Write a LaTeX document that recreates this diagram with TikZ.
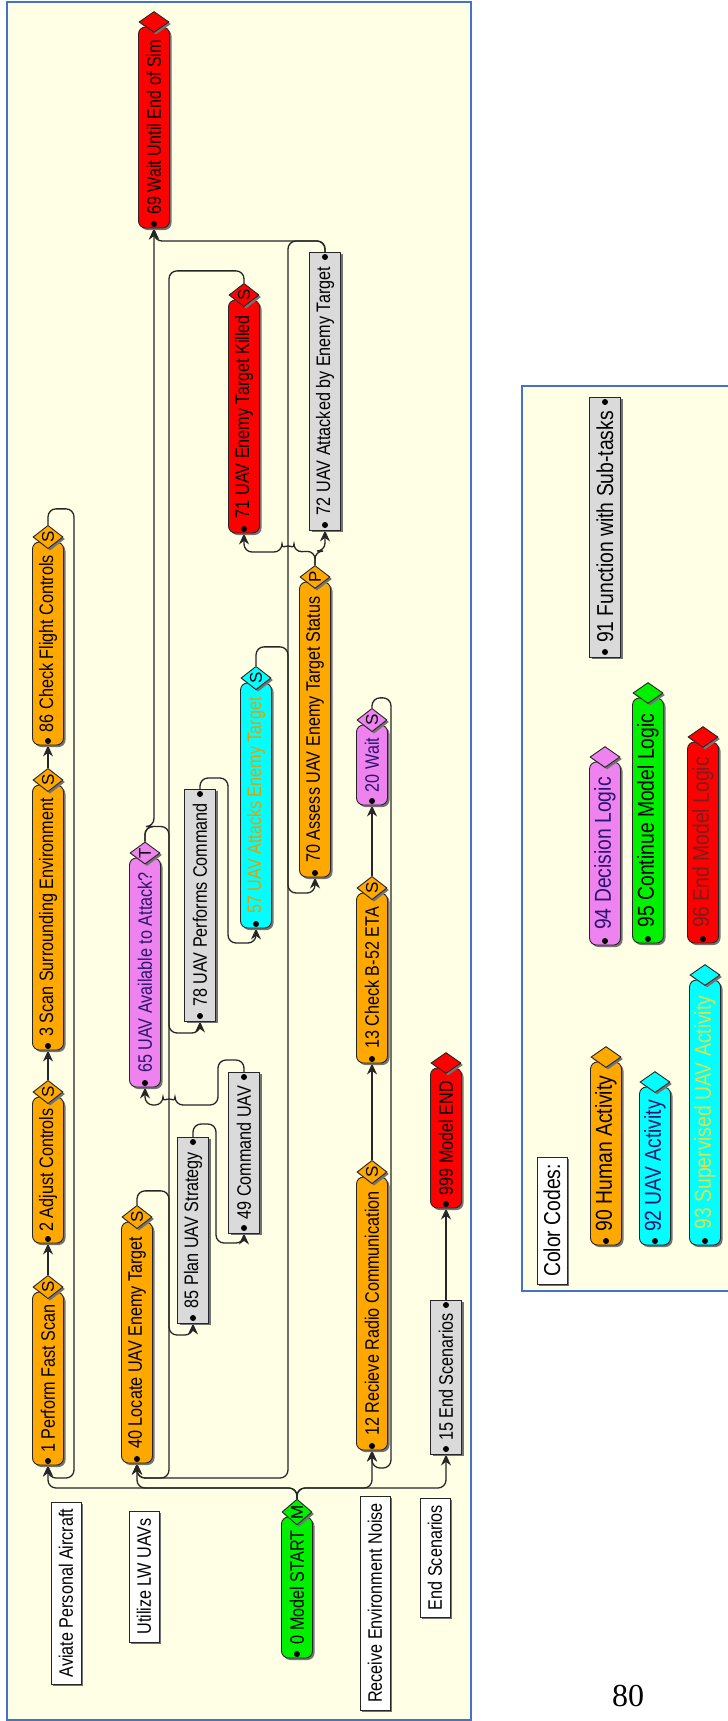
\documentclass[tikz,border=0pt]{standalone}
\usepackage{fontspec}
\setmainfont{Liberation Sans}
\newfontfamily\pagefont{Liberation Serif}
\usetikzlibrary{arrows.meta,shapes.geometric,shadows}

\definecolor{paper}{RGB}{255,255,230}
\definecolor{frameblue}{RGB}{68,114,196}
\definecolor{human}{RGB}{255,168,0}
\definecolor{uav}{RGB}{0,255,255}
\definecolor{decide}{RGB}{238,130,238}
\definecolor{goon}{RGB}{0,240,0}
\definecolor{stopred}{RGB}{255,0,0}
\definecolor{func}{RGB}{218,218,218}
\definecolor{navy}{RGB}{40,20,110}
\definecolor{gold}{RGB}{225,160,0}
\definecolor{pale}{RGB}{225,225,70}
\definecolor{maroon}{RGB}{120,30,30}

\pgfdeclarelayer{back}
\pgfdeclarelayer{wires}
\pgfsetlayers{back,wires,main}

% condensed, upright-reading-upwards text
\newcommand{\boxfont}{\fontsize{19.5}{21}\selectfont}
\newcommand{\condense}{0.83}
\newcommand{\vtext}[1]{\rotatebox{90}{\scalebox{\condense}[1]{#1}}}

\tikzset{
  boxshadow/.style={drop shadow={shadow xshift=2pt,shadow yshift=-2pt,fill=black!55,opacity=1}},
  taskbox/.style={draw=black!85, line width=0.9pt, rounded corners=7pt, minimum width=31pt,
                  inner sep=0pt, boxshadow, font=\boxfont},
  diam/.style={diamond, draw=black!85, line width=0.9pt, minimum width=30pt, minimum height=21pt,
               inner sep=0pt, boxshadow, font=\fontsize{17}{17}\selectfont},
  funcbox/.style={draw=black!85, fill=func, line width=0.9pt, minimum width=31pt,
                  inner sep=0pt, boxshadow, font=\boxfont},
  labelbox/.style={draw=black!85, fill=white, line width=0.9pt, minimum width=30pt,
                   inner sep=0pt, boxshadow, font=\boxfont},
  indot/.style={circle, fill=black, inner sep=0pt, minimum size=6pt},
  conn/.style={draw=black!85, line width=1.3pt, rounded corners=8pt},
  arr/.style={conn, -{Stealth[length=11pt,width=10pt]}},
}

% task: name, x, top, bottom, fill, letter, text colour, text
\newcommand{\mktask}[8]{%
  \node[taskbox, fill=#5, text=#7, minimum height={(#4-(#3))*1pt}] (#1) at (#2,{(#3+#4)/2}) {\vtext{#8}};
  \node[diam, fill=#5] (#1d) at (#2,{#3-5}) {\rotatebox{90}{#6}};
  \node[indot] (#1i) at (#2,{#4-4}) {};
}
% function with sub-tasks: name, x, top, bottom, text
\newcommand{\mkfunc}[5]{%
  \node[funcbox, minimum height={(#4-(#3))*1pt}] (#1) at (#2,{(#3+#4)/2}) {\vtext{#5}};
  \node[indot] (#1o) at (#2,{#3+5}) {};
  \node[indot] (#1i) at (#2,{#4-5}) {};
}
% plain label: name, x, top, bottom, text
\newcommand{\mklabel}[5]{%
  \node[labelbox, minimum height={(#4-(#3))*1pt}] (#1) at (#2,{(#3+#4)/2}) {\vtext{#5}};
}

\begin{document}
\begin{tikzpicture}[x=1pt,y=-1pt]
\useasboundingbox (0,0) rectangle (728,1721);

\begin{pgfonlayer}{back}
  \fill[white] (0,0) rectangle (728,1721);
  \fill[paper] (7,2) rectangle (471,1720);
  \draw[frameblue, line width=1.5pt] (7,2) rectangle (471,1720);
  \fill[paper] (522,386) rectangle (728,1291);
  \draw[frameblue, line width=1.5pt] (728,386) -- (522,386) -- (522,1291) -- (728,1291);
\end{pgfonlayer}

% ---------- row labels ----------
\mklabel{lab1}{66}{1502}{1684}{Aviate Personal Aircraft}
\mklabel{lab2}{144}{1511}{1642}{Utilize LW UAVs}
\mklabel{lab3}{375}{1496}{1710}{Receive Environment Noise}
\mklabel{lab4}{435}{1498}{1617}{End Scenarios}

% ---------- start ----------
\mktask{t0}{297}{1517}{1658}{goon}{M}{black}{0 Model START}

% ---------- aviate ----------
\mktask{t1}{48}{1292}{1465}{human}{S}{black}{1 Perform Fast Scan}
\mktask{t2}{48}{1097}{1243}{human}{S}{black}{2 Adjust Controls}
\mktask{t3}{48}{785}{1050}{human}{S}{black}{3 Scan Surrounding Environment}
\mktask{t86}{48}{542}{745}{human}{S}{black}{86 Check Flight Controls}

% ---------- UAV use ----------
\mktask{t40}{137}{1222}{1463}{human}{S}{black}{40 Locate UAV Enemy Target}
\mkfunc{f85}{193}{1137}{1323}{85 Plan UAV Strategy}
\mkfunc{f49}{244}{1072}{1233}{49 Command UAV}
\mktask{t65}{145}{858}{1087}{decide}{T}{navy}{65 UAV Available to Attack?}
\mkfunc{f78}{200}{789}{1021}{78 UAV Performs Command}
\mktask{t57}{256}{683}{928}{uav}{S}{gold}{57 UAV Attacks Enemy Target}
\mktask{t70}{315}{582}{877}{human}{P}{black}{70 Assess UAV Enemy Target Status}
\mktask{t71}{244}{300}{533}{stopred}{S}{black}{71 UAV Enemy Target Killed}
\mkfunc{f72}{325}{252}{530}{72 UAV Attacked by Enemy Target}
\mktask{t69}{154}{27}{228}{stopred}{}{black}{69 Wait Until End of Sim}

% ---------- radio ----------
\mktask{t12}{372}{1177}{1450}{human}{S}{black}{12 Recieve Radio Communication}
\mktask{t13}{372}{893}{1063}{human}{S}{black}{13 Check B-52 ETA}
\mktask{t20}{372}{725}{805}{decide}{S}{navy}{20 Wait}

% ---------- end ----------
\mkfunc{f15}{446}{1300}{1454}{15 End Scenarios}
\mktask{t999}{446}{1068}{1208}{stopred}{}{black}{999 Model END}

% ---------- legend ----------
\begin{scope}
  \renewcommand{\boxfont}{\fontsize{23}{25}\selectfont}
  \renewcommand{\condense}{0.84}
  \mklabel{lcc}{552}{1157}{1284}{Color Codes:}
  \mkfunc{f91}{605}{397}{657}{91 Function with Sub-tasks}
  \mktask{t94}{605}{762}{945}{decide}{}{navy}{94 Decision Logic}
  \mktask{t95}{648}{698}{943}{goon}{}{black}{95 Continue Model Logic}
  \mktask{t96}{703}{742}{943}{stopred}{}{maroon}{96 End Model Logic}
  \mktask{t90}{606}{1062}{1245}{human}{}{black}{90 Human Activity}
  \mktask{t92}{655}{1087}{1245}{uav}{}{navy}{92 UAV Activity}
  \mktask{t93}{705}{980}{1245}{uav}{}{pale}{93 Supervised UAV Activity}
\end{scope}

\node[font=\pagefont\fontsize{32}{34}\selectfont] (pg) at (628,1696) {80};

% ---------- connectors ----------
\begin{pgfonlayer}{wires}
  \coordinate (bus) at (0,1488);
  % start fans out to every thread
  \draw[arr] (t0d.north) -- (t0d.north |- bus) -| (t1.south);
  \draw[arr] (t0d.north) -- (t0d.north |- bus) -| (t40.south);
  \draw[arr] (t0d.north) -- (t0d.north |- bus) -| (t12.south);
  \draw[arr] (t0d.north) -- (t0d.north |- bus) -| (f15.south);

  % aviate thread
  \draw[arr] (t1d.north) -- (t2.south);
  \draw[arr] (t2d.north) -- (t3.south);
  \draw[arr] (t3d.north) -- (t86.south);
  \draw[arr] (t86d.north) -- ++(0,-16) -| (74,1478) -| (t1.south);

  % UAV thread
  \draw[arr] (t40d.north) -- ++(0,-14) -| (169,1335) -| (f85.south);
  \draw[arr] (f85o.center) -- ++(0,-18) -| (216,1243) -| (f49.south);
  \draw[arr] (f49o.center) -- ++(0,-17) -| (218,1105) -- (175,1105)
        arc[start angle=0,end angle=180,radius=6pt] -| (t65.south);
  \draw[arr] (t65d.north) -- ++(0,-15) -| (169,1033) -| (f78.south);
  \draw[arr] (t65d.north) -- ++(0,-15) -| (t69.south);
  \draw[arr] (f78o.center) -- ++(0,-16) -| (228,943) -| (t57.south);
  \draw[arr] (t57d.north) -- ++(0,-19) -| (288,893) -| (t70.south);
  \draw[arr] (t70d.north) -- ++(0,-14) -- (294,552)
        arc[start angle=0,end angle=180,radius=6pt] -| (t71.south);
  \draw[arr] (t70d.north) -- ++(0,-14) -| (f72.south);
  \draw[arr] (t71d.north) -- ++(0,-12) -| (169,1478) -| (t40.south);
  \draw[arr] (f72o.center) -- ++(0,-16) -| (t69.south);
  \draw[arr] (f72o.center) -- ++(0,-16) -| (288,1478) -| (t40.south);

  % radio thread
  \draw[arr] (t12d.north) -- (t13.south);
  \draw[arr] (t13d.north) -- (t20.south);
  \draw[arr] (t20d.north) -- ++(0,-10) -| (391,1468) -| (t12.south);

  % end thread
  \draw[arr] (f15o.center) -- (t999.south);
\end{pgfonlayer}
\end{tikzpicture}
\end{document}
